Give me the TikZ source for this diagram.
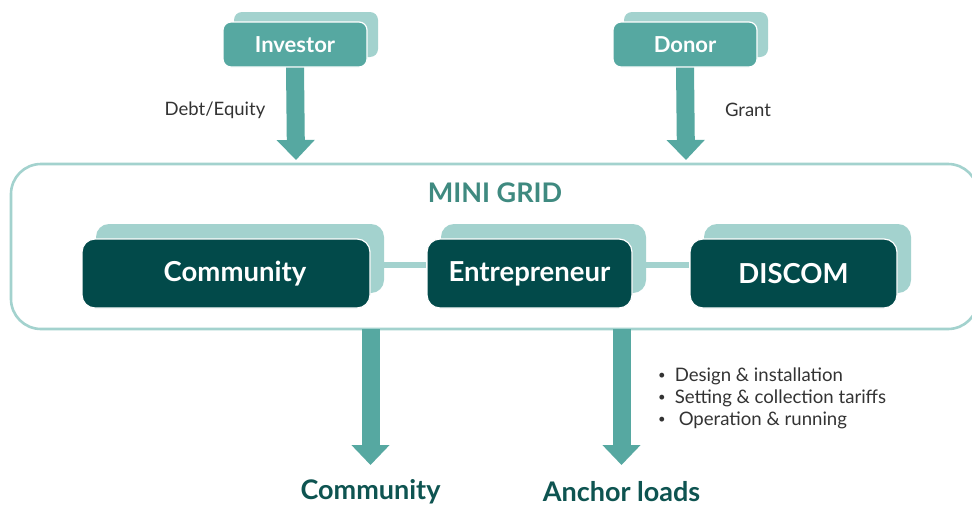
\documentclass[tikz,border=0pt]{standalone}
\usepackage{fontspec}
\setmainfont{Lato}
\usetikzlibrary{arrows.meta}
\definecolor{midteal}{HTML}{56A8A1}
\definecolor{lightteal}{HTML}{A3D2CE}
\definecolor{darkteal}{HTML}{024A4A}
\definecolor{titleteal}{HTML}{3F8A80}
\definecolor{labeldark}{HTML}{0E5451}
\definecolor{txtgrey}{HTML}{333333}
\tikzset{
  smallfront/.style={fill=midteal, draw=white, line width=1.2pt, rounded corners=8pt,
    minimum width=144pt, minimum height=45pt, inner sep=0pt, text=white,
    font=\fontsize{22}{26}\selectfont\bfseries},
  smallback/.style={fill=lightteal, rounded corners=8pt, minimum width=144pt, minimum height=45pt, inner sep=0pt},
  bigfront/.style={fill=darkteal, draw=white, line width=1.2pt, rounded corners=13pt,
    minimum height=69pt, inner sep=0pt, text=white,
    font=\fontsize{27.5}{32}\selectfont\bfseries},
  bigback/.style={fill=lightteal, rounded corners=13pt, minimum height=69pt, inner sep=0pt},
  flowarrow/.style={draw=midteal, line width=18pt, -{Triangle[width=37pt,length=20pt]}},
  link/.style={draw=lightteal, line width=6pt},
  sidelabel/.style={text=txtgrey, font=\fontsize{18.5}{22}\selectfont},
  bottomlabel/.style={text=labeldark, font=\fontsize{27}{32}\selectfont\bfseries},
  bullets/.style={text=txtgrey, font=\fontsize{18.6}{22}\selectfont, align=left, anchor=north west, inner sep=0pt}
}
\newcommand{\smalldot}{\raisebox{0.25ex}{\scalebox{0.7}{\textbullet}}}
\begin{document}
\begin{tikzpicture}[x=1pt,y=-1pt]
\clip (0,0) rectangle (972,506);
\fill[white] (0,0) rectangle (972,506);

% mini grid frame
\draw[draw=lightteal, line width=2.6pt, rounded corners=30pt] (11,164) rectangle (978,329);
\coordinate (gridtop1) at (296,160);
\coordinate (gridtop2) at (686,160);
\coordinate (gridbot1) at (370.5,329);
\coordinate (gridbot2) at (621.5,329);
\coordinate (end1) at (370.5,465);
\coordinate (end2) at (621.5,465);
\node[text=titleteal, font=\fontsize{27}{32}\selectfont\bfseries] (title) at (495,193) {MINI GRID};

% top boxes
\node[smallback] (invb) at (306,34.5) {};
\node[smallfront] (inv) at (295,44.5) {Investor};
\node[smallback] (donb) at (696,34.5) {};
\node[smallfront] (don) at (685,44.5) {Donor};

% top arrows
\draw[flowarrow] (inv.south) -- (gridtop1);
\draw[flowarrow] (don.south) -- (gridtop2);
\node[sidelabel] (debt) at (215,110) {Debt/Equity};
\node[sidelabel] (grant) at (748,110) {Grant};

% big boxes: backs
\node[bigback, minimum width=288pt] (comb) at (240,258.5) {};
\node[bigback, minimum width=205pt] (entb) at (543.5,258.5) {};
\node[bigback, minimum width=207pt] (disb) at (807.5,258.5) {};
\node[bigfront, minimum width=288pt] (com) at (226,273.5) {\hspace*{18pt}Community};
\node[bigfront, minimum width=205pt] (ent) at (529.5,273.5) {Entrepreneur};
\node[bigfront, minimum width=207pt] (dis) at (793.5,273.5) {DISCOM};

% links
\draw[link] (comb.east |- 0,265) -- (ent.west |- 0,265);
\draw[link] (entb.east |- 0,265) -- (dis.west |- 0,265);

% bottom arrows
\draw[flowarrow] (gridbot1) -- (end1);
\draw[flowarrow] (gridbot2) -- (end2);
\node[bottomlabel] (lcom) at (370.5,492) {Community};
\node[bottomlabel] (lanc) at (621.5,492) {Anchor loads};

\node[bullets] (list) at (658,368) {\smalldot\hspace{9pt}Design \& installation\\
\smalldot\hspace{9pt}Setting \& collection tariffs\\
\smalldot\hspace{13pt}Operation \& running};
\end{tikzpicture}
\end{document}
